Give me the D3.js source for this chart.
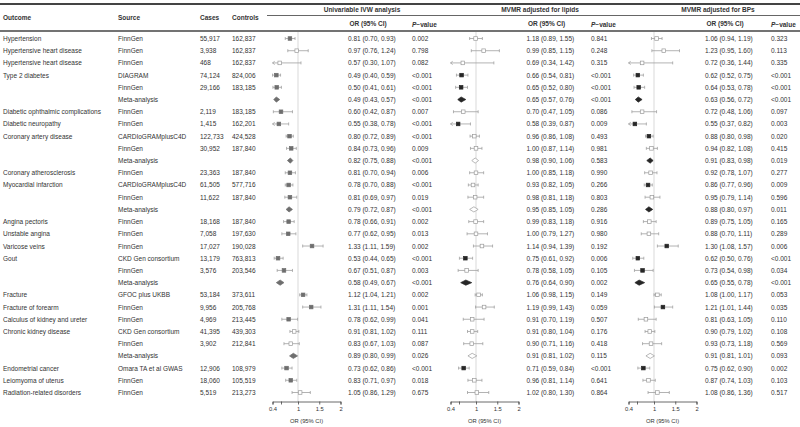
<!DOCTYPE html>
<html><head><meta charset="utf-8">
<script src="https://cdn.jsdelivr.net/npm/d3@7"></script>
<style>body{margin:0;background:#fff}svg{display:block}</style>
</head><body>
<script>
// ---------- DATA ----------
const outcomes = ["Hypertension","Hypertensive heart disease","Hypertensive heart disease","Type 2 diabetes","","","Diabetic ophthalmic complications","Diabetic neuropathy","Coronary artery disease","","","Coronary atherosclerosis","Myocardial infarction","","","Angina pectoris","Unstable angina","Varicose veins","Gout","","","Fracture","Fracture of forearm","Calculus of kidney and ureter","Chronic kidney disease","","","Endometrial cancer","Leiomyoma of uterus","Radiation-related disorders"];
const sources = ["FinnGen","FinnGen","FinnGen","DIAGRAM","FinnGen","Meta-analysis","FinnGen","FinnGen","CARDIoGRAMplusC4D","FinnGen","Meta-analysis","FinnGen","CARDIoGRAMplusC4D","FinnGen","Meta-analysis","FinnGen","FinnGen","FinnGen","CKD Gen consortium","FinnGen","Meta-analysis","GFOC plus UKBB","FinnGen","FinnGen","CKD Gen consortium","FinnGen","Meta-analysis","Omara TA et al GWAS","FinnGen","FinnGen"];
const cases = ["55,917","3,938","468","74,124","29,166","","2,119","1,415","122,733","30,952","","23,363","61,505","11,622","","18,168","7,058","17,027","13,179","3,576","","53,184","9,956","4,969","41,395","3,902","","12,906","18,060","5,519"];
const controls = ["162,837","162,837","162,837","824,006","183,185","","183,185","162,201","424,528","187,840","","187,840","577,716","187,840","","187,840","197,630","190,028","763,813","203,546","","373,611","205,768","213,445","439,303","212,841","","108,979","105,519","213,273"];

const panelTitles = ["Univariable IVW analysis","MVMR adjusted for lipids","MVMR adjusted for BPs"];

// Univariable IVW
const ivwOR = [0.81,0.97,0.57,0.49,0.50,0.49,0.60,0.55,0.80,0.84,0.82,0.81,0.78,0.81,0.79,0.78,0.77,1.33,0.53,0.67,0.58,1.12,1.31,0.78,0.91,0.83,0.89,0.73,0.83,1.05];
const ivwLo = [0.70,0.76,0.30,0.40,0.41,0.43,0.42,0.38,0.72,0.73,0.75,0.70,0.70,0.69,0.72,0.66,0.62,1.11,0.44,0.51,0.49,1.04,1.11,0.62,0.81,0.67,0.80,0.62,0.71,0.86];
const ivwHi = [0.93,1.24,1.07,0.59,0.61,0.57,0.87,0.78,0.89,0.96,0.88,0.94,0.88,0.97,0.87,0.91,0.95,1.59,0.65,0.87,0.67,1.21,1.54,0.99,1.02,1.03,0.99,0.86,0.97,1.29];
const ivwText = ["0.81 (0.70, 0.93)","0.97 (0.76, 1.24)","0.57 (0.30, 1.07)","0.49 (0.40, 0.59)","0.50 (0.41, 0.61)","0.49 (0.43, 0.57)","0.60 (0.42, 0.87)","0.55 (0.38, 0.78)","0.80 (0.72, 0.89)","0.84 (0.73, 0.96)","0.82 (0.75, 0.88)","0.81 (0.70, 0.94)","0.78 (0.70, 0.88)","0.81 (0.69, 0.97)","0.79 (0.72, 0.87)","0.78 (0.66, 0.91)","0.77 (0.62, 0.95)","1.33 (1.11, 1.59)","0.53 (0.44, 0.65)","0.67 (0.51, 0.87)","0.58 (0.49, 0.67)","1.12 (1.04, 1.21)","1.31 (1.11, 1.54)","0.78 (0.62, 0.99)","0.91 (0.81, 1.02)","0.83 (0.67, 1.03)","0.89 (0.80, 0.99)","0.73 (0.62, 0.86)","0.83 (0.71, 0.97)","1.05 (0.86, 1.29)"];
const ivwP = ["0.002","0.798","0.082","<0.001","<0.001","<0.001","0.007","<0.001","<0.001","0.009","<0.001","0.006","<0.001","0.019","<0.001","0.002","0.013","0.002","<0.001","0.003","<0.001","0.002","0.001","0.041","0.111","0.087","0.026","<0.001","0.018","0.675"];

// MVMR adjusted for lipids (plotted values as drawn)
const lipOR = [0.99,1.18,0.69,0.66,0.65,0.65,0.70,0.58,0.96,1.00,0.98,1.00,0.93,0.98,0.95,0.99,1.00,1.14,0.75,0.78,0.76,1.06,1.19,0.91,0.91,0.90,0.91,0.71,0.96,1.02];
const lipLo = [0.85,0.89,0.34,0.54,0.52,0.57,0.47,0.39,0.86,0.87,0.90,0.85,0.82,0.81,0.85,0.83,0.79,0.94,0.61,0.58,0.64,0.98,0.99,0.70,0.80,0.71,0.81,0.59,0.81,0.80];
const lipHi = [1.15,1.55,1.42,0.81,0.80,0.76,1.05,0.87,1.08,1.14,1.06,1.18,1.05,1.18,1.05,1.18,1.27,1.39,0.92,1.05,0.90,1.15,1.43,1.19,1.04,1.16,1.02,0.84,1.14,1.30];
const lipText = ["1.18 (0.89, 1.55)","0.99 (0.85, 1.15)","0.69 (0.34, 1.42)","0.66 (0.54, 0.81)","0.65 (0.52, 0.80)","0.65 (0.57, 0.76)","0.70 (0.47, 1.05)","0.58 (0.39, 0.87)","0.96 (0.86, 1.08)","1.00 (0.87, 1.14)","0.98 (0.90, 1.06)","1.00 (0.85, 1.18)","0.93 (0.82, 1.05)","0.98 (0.81, 1.18)","0.95 (0.85, 1.05)","0.99 (0.83, 1.18)","1.00 (0.79, 1.27)","1.14 (0.94, 1.39)","0.75 (0.61, 0.92)","0.78 (0.58, 1.05)","0.76 (0.64, 0.90)","1.06 (0.98, 1.15)","1.19 (0.99, 1.43)","0.91 (0.70, 1.19)","0.91 (0.80, 1.04)","0.90 (0.71, 1.16)","0.91 (0.81, 1.02)","0.71 (0.59, 0.84)","0.96 (0.81, 1.14)","1.02 (0.80, 1.30)"];
const lipP = ["0.841","0.248","0.315","<0.001","<0.001","<0.001","0.086","0.009","0.493","0.981","0.583","0.990","0.266","0.803","0.286","0.916","0.980","0.192","0.006","0.105","0.002","0.149","0.059","0.507","0.176","0.418","0.115","<0.001","0.641","0.864"];

// MVMR adjusted for BPs
const bpOR = [1.06,1.23,0.72,0.62,0.64,0.63,0.72,0.55,0.88,0.94,0.91,0.92,0.86,0.95,0.88,0.89,0.88,1.30,0.62,0.73,0.65,1.08,1.21,0.81,0.90,0.93,0.91,0.75,0.87,1.08];
const bpLo = [0.94,0.95,0.36,0.52,0.53,0.56,0.48,0.37,0.80,0.82,0.83,0.78,0.77,0.79,0.80,0.75,0.70,1.08,0.50,0.54,0.55,1.00,1.01,0.63,0.79,0.73,0.81,0.62,0.74,0.86];
const bpHi = [1.19,1.60,1.44,0.75,0.78,0.72,1.06,0.82,0.98,1.08,0.98,1.07,0.96,1.14,0.97,1.05,1.11,1.57,0.76,0.98,0.78,1.17,1.44,1.05,1.02,1.18,1.01,0.90,1.03,1.36];
const bpText = ["1.06 (0.94, 1.19)","1.23 (0.95, 1.60)","0.72 (0.36, 1.44)","0.62 (0.52, 0.75)","0.64 (0.53, 0.78)","0.63 (0.56, 0.72)","0.72 (0.48, 1.06)","0.55 (0.37, 0.82)","0.88 (0.80, 0.98)","0.94 (0.82, 1.08)","0.91 (0.83, 0.98)","0.92 (0.78, 1.07)","0.86 (0.77, 0.96)","0.95 (0.79, 1.14)","0.88 (0.80, 0.97)","0.89 (0.75, 1.05)","0.88 (0.70, 1.11)","1.30 (1.08, 1.57)","0.62 (0.50, 0.76)","0.73 (0.54, 0.98)","0.65 (0.55, 0.78)","1.08 (1.00, 1.17)","1.21 (1.01, 1.44)","0.81 (0.63, 1.05)","0.90 (0.79, 1.02)","0.93 (0.73, 1.18)","0.91 (0.81, 1.01)","0.75 (0.62, 0.90)","0.87 (0.74, 1.03)","1.08 (0.86, 1.36)"];
const bpP = ["0.323","0.113","0.335","<0.001","<0.001","<0.001","0.097","0.003","0.020","0.415","0.019","0.277","0.009","0.596","0.011","0.165","0.289","0.006","<0.001","0.034","<0.001","0.053","0.035","0.110","0.108","0.569","0.093","0.002","0.103","0.517"];

const axisTicks = [0.4, 0.6, 1, 1.5, 2];
const axisTickLabels = ["0.4", "", "1", "1.5", "2"];
const axisDomain = [0.4, 2];

// ---------- LAYOUT ----------
const W = 800, H = 427;
const svg = d3.select("body").append("svg").attr("width", W).attr("height", H)
  .style("font-family", "'Liberation Sans', Arial, sans-serif");
const txt = "#333";
const fs = 6.5;

const rowY = d3.scaleLinear().domain([0, outcomes.length - 1]).range([38.5, 392.5]);

// header lines
svg.append("line").attr("x1",0).attr("x2",W).attr("y1",4).attr("y2",4).attr("stroke","#444").attr("stroke-width",2);
svg.append("line").attr("x1",267).attr("x2",W).attr("y1",15.5).attr("y2",15.5).attr("stroke","#555").attr("stroke-width",0.9);
svg.append("line").attr("x1",0).attr("x2",W).attr("y1",31).attr("y2",31).attr("stroke","#444").attr("stroke-width",1.4);

const cols = [{x:3, h:"Outcome", d:outcomes},{x:118, h:"Source", d:sources},{x:200, h:"Cases", d:cases},{x:232, h:"Controls", d:controls}];
cols.forEach(c => {
  svg.append("text").attr("x", c.x).attr("y", 17.5).attr("dominant-baseline","central")
    .attr("font-size", fs).attr("font-weight","bold").attr("fill", txt).text(c.h);
  svg.append("g").selectAll("text").data(c.d).join("text")
    .attr("x", c.x).attr("y", (d,i)=>rowY(i)).attr("dominant-baseline","central")
    .attr("font-size", fs).attr("fill", txt).text(d=>d);
});

const panels = [
  {ref:298, orX:348, pX:412, est:ivwOR, lo:ivwLo, hi:ivwHi, text:ivwText, p:ivwP, fill:"#6e6e6e"},
  {ref:476, orX:526.5, pX:591, est:lipOR, lo:lipLo, hi:lipHi, text:lipText, p:lipP, fill:"#262626"},
  {ref:654, orX:705, pX:771, est:bpOR, lo:bpLo, hi:bpHi, text:bpText, p:bpP, fill:"#262626"}
];

const sig = s => s.startsWith("<") || (+s < 0.05);
const axisY = 401.5;

panels.forEach((P, k) => {
  const x = d3.scaleLinear().domain(axisDomain).range([P.ref - 25.5, P.ref + 42.5]);
  const g = svg.append("g");
  // titles
  g.append("text").attr("x", P.ref + 64).attr("y", 9).attr("text-anchor","middle").attr("dominant-baseline","central")
    .attr("font-size", fs).attr("font-weight","bold").attr("fill", txt).text(panelTitles[k]);
  g.append("text").attr("x", P.orX + 1.5).attr("y", 23.5).attr("dominant-baseline","central")
    .attr("font-size", fs).attr("font-weight","bold").attr("fill", txt).text("OR (95% CI)");
  const ph = g.append("text").attr("x", P.pX).attr("y", 23.5).attr("dominant-baseline","central")
    .attr("font-size", fs).attr("font-weight","bold").attr("fill", txt);
  ph.append("tspan").attr("font-style","italic").text("P");
  ph.append("tspan").text("\u2212value");

  // reference line
  g.append("line").attr("x1", x(1)).attr("x2", x(1)).attr("y1", 32).attr("y2", axisY)
    .attr("stroke", "#cfcfcf").attr("stroke-width", 0.8);

  // axis
  const ax = d3.axisBottom(x).tickValues(axisTicks).tickSize(3).tickPadding(2)
    .tickFormat((d,i)=>axisTickLabels[i]);
  const axg = g.append("g").attr("transform", `translate(0,${axisY})`).call(ax);
  axg.select(".domain").attr("stroke","#444").attr("stroke-width",0.8);
  axg.selectAll(".tick line").attr("stroke","#444").attr("stroke-width",0.8);
  axg.selectAll(".tick text").attr("font-size", 5.8).attr("fill", txt).attr("font-family","'Liberation Sans', Arial, sans-serif");
  g.append("text").attr("x", x(1.2)).attr("y", 421).attr("text-anchor","middle").attr("dominant-baseline","central")
    .attr("font-size", 5.8).attr("fill", txt).text("OR (95% CI)");

  // marks
  sources.forEach((src, i) => {
    const y = rowY(i);
    const filled = sig(P.p[i]);
    const col = filled ? P.fill : "#fff";
    const stroke = filled ? P.fill : "#9a9a9a";
    const lo = Math.max(P.lo[i], axisDomain[0]);
    if (src === "Meta-analysis") {
      const pts = [[x(P.lo[i]), y], [x(P.est[i]), y - 2.6], [x(P.hi[i]), y], [x(P.est[i]), y + 2.6]];
      g.append("polygon").attr("points", pts.map(p=>p.join(",")).join(" "))
        .attr("fill", col).attr("stroke", stroke).attr("stroke-width", 0.7);
    } else {
      g.append("line").attr("x1", x(lo)).attr("x2", x(P.hi[i])).attr("y1", y).attr("y2", y)
        .attr("stroke", "#a0a0a0").attr("stroke-width", 0.8);
      g.append("line").attr("x1", x(P.hi[i])).attr("x2", x(P.hi[i])).attr("y1", y-1.5).attr("y2", y+1.5)
        .attr("stroke", "#a0a0a0").attr("stroke-width", 0.8);
      if (P.lo[i] < axisDomain[0]) {
        const ax0 = x(lo);
        g.append("path").attr("d", `M${ax0+2.2},${y-1.6} L${ax0},${y} L${ax0+2.2},${y+1.6}`)
          .attr("fill","none").attr("stroke","#a0a0a0").attr("stroke-width",0.8);
      } else {
        g.append("line").attr("x1", x(lo)).attr("x2", x(lo)).attr("y1", y-1.5).attr("y2", y+1.5)
          .attr("stroke", "#a0a0a0").attr("stroke-width", 0.8);
      }
      const s = 3.6;
      g.append("rect").attr("x", x(P.est[i]) - s/2).attr("y", y - s/2).attr("width", s).attr("height", s)
        .attr("fill", col).attr("stroke", stroke).attr("stroke-width", 0.7);
    }
    g.append("text").attr("x", P.orX).attr("y", y).attr("dominant-baseline","central")
      .attr("font-size", fs).attr("fill", txt).text(P.text[i]);
    g.append("text").attr("x", P.pX).attr("y", y).attr("dominant-baseline","central")
      .attr("font-size", fs).attr("fill", txt).text(P.p[i]);
  });
});
</script>
</body></html>
